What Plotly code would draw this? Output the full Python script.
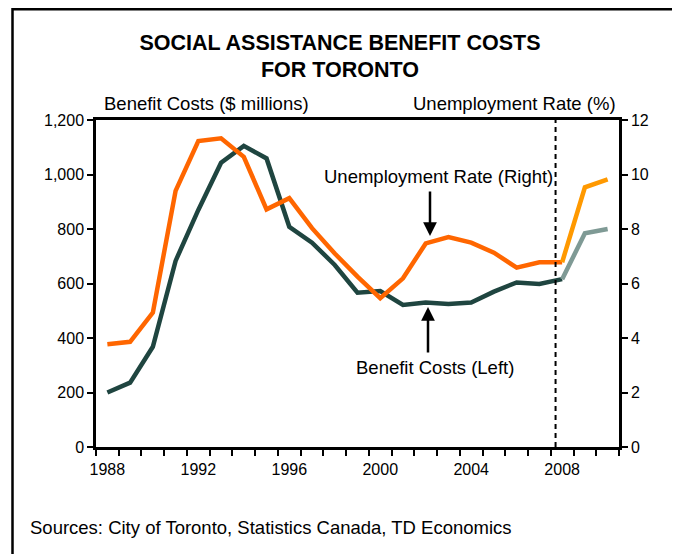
import plotly.graph_objects as go

years = list(range(1988, 2011))
benefit_costs = [200, 236, 368, 683, 870, 1043, 1105, 1059, 808, 750, 668, 566, 572,
                 521, 530, 525, 530, 570, 604, 598, 616, 784, 800]
unemployment = [3.77, 3.86, 4.93, 9.4, 11.23, 11.33, 10.65, 8.72, 9.13, 8.03, 7.1, 6.25, 5.46,
                6.19, 7.47, 7.7, 7.5, 7.13, 6.58, 6.78, 6.78, 9.53, 9.82]
x_tick_labels = [1988, 1992, 1996, 2000, 2004, 2008]
left_ticks = [0, 200, 400, 600, 800, 1000, 1200]
right_ticks = [0, 2, 4, 6, 8, 10, 12]
split_year = 2008
forecast_line_year = 2007.71

DARK = "#1F4540"
LIGHT_DARK = "#7F9A95"
ORANGE = "#FF6600"
LIGHT_ORANGE = "#FF9900"
FONT = "Liberation Sans, Arial, sans-serif"

i = years.index(split_year)

fig = go.Figure()
fig.add_trace(go.Scatter(x=years[:i + 1], y=unemployment[:i + 1], yaxis="y2", mode="lines",
                         line=dict(color=ORANGE, width=4.5), hoverinfo="skip"))
fig.add_trace(go.Scatter(x=years[i:], y=unemployment[i:], yaxis="y2", mode="lines",
                         line=dict(color=LIGHT_ORANGE, width=4.5), hoverinfo="skip"))
fig.add_trace(go.Scatter(x=years[:i + 1], y=benefit_costs[:i + 1], mode="lines",
                         line=dict(color=DARK, width=4.5), hoverinfo="skip"))
fig.add_trace(go.Scatter(x=years[i:], y=benefit_costs[i:], mode="lines",
                         line=dict(color=LIGHT_DARK, width=4.5), hoverinfo="skip"))

OFF = 8  # page body margin offset
W, H = 680 - OFF, 554 - OFF
# plot area in screen (reference) pixels
X0, X1, Y0, Y1 = 96, 619, 120, 447
L = X0 - OFF
R = W - (X1 - OFF)
T = Y0 - OFF
B = H - (Y1 - OFF)
pw, ph = X1 - X0, Y1 - Y0


def px(x):
    return (x - X0) / pw


def py(y):
    return (Y1 - y) / ph


fig.update_layout(
    width=W, height=H,
    margin=dict(l=L, r=R, t=T, b=B),
    paper_bgcolor="white", plot_bgcolor="white",
    showlegend=False,
    font=dict(family=FONT, size=16, color="black"),
    title=dict(text="<b>SOCIAL ASSISTANCE BENEFIT COSTS<br>FOR TORONTO</b>",
               x=(340 - OFF) / W, xanchor="center", xref="container",
               y=1 - (49.5 - OFF) / H, yanchor="middle", yref="container",
               font=dict(family=FONT, size=21.5, color="black")),
    xaxis=dict(range=[1987.5, 2010.5], tickvals=x_tick_labels,
               ticktext=[str(v) for v in x_tick_labels],
               ticks="outside", ticklen=6, tickcolor="rgba(0,0,0,0)",
               minor=dict(tick0=1987.5, dtick=1, ticks="outside", ticklen=6,
                          tickwidth=2, tickcolor="black"),
               showline=True, linecolor="black", linewidth=2.5, mirror=True,
               showgrid=False, zeroline=False,
               tickfont=dict(size=16)),
    yaxis=dict(range=[0, 1200], tickvals=left_ticks, tickformat=",",
               ticks="outside", ticklen=6, tickwidth=2, tickcolor="black",
               showline=True, linecolor="black", linewidth=2.5,
               showgrid=False, zeroline=False, tickfont=dict(size=16)),
    yaxis2=dict(range=[0, 12], tickvals=right_ticks, overlaying="y", side="right",
                ticks="outside", ticklen=6, tickwidth=2, tickcolor="black",
                showline=True, linecolor="black", linewidth=2.5,
                showgrid=False, zeroline=False, tickfont=dict(size=16)),
)

fig.add_shape(type="line", xref="x", yref="paper", x0=forecast_line_year, x1=forecast_line_year,
              y0=0, y1=1, line=dict(color="black", width=2, dash="5px,4px"))
fig.add_shape(type="rect", xref="paper", yref="paper",
              x0=px(12.5), x1=px(676), y0=py(575), y1=py(9.3),
              line=dict(color="black", width=2.5), fillcolor="rgba(0,0,0,0)")

ann = [
    dict(text="Benefit Costs ($ millions)", x=px(102), y=py(103), xanchor="left", yanchor="middle",
         font=dict(size=18.5)),
    dict(text="Unemployment Rate (%)", x=px(618), y=py(103), xanchor="right", yanchor="middle",
         font=dict(size=18.5)),
    dict(text="Unemployment Rate (Right)", x=px(438), y=py(176), xanchor="center", yanchor="middle",
         font=dict(size=18.5)),
    dict(text="Benefit Costs (Left)", x=px(435), y=py(367), xanchor="center", yanchor="middle",
         font=dict(size=18.5)),
    dict(text="Sources: City of Toronto, Statistics Canada, TD Economics", x=px(28), y=py(527),
         xanchor="left", yanchor="middle", font=dict(size=18.5)),
]
for a in ann:
    fig.add_annotation(xref="paper", yref="paper", showarrow=False, **a)

fig.add_annotation(xref="paper", yref="paper", x=px(430), y=py(236), text="", showarrow=True,
                   ax=0, ay=-46, arrowhead=2, arrowsize=1.1, arrowwidth=2.5, arrowcolor="black")
fig.add_annotation(xref="paper", yref="paper", x=px(428), y=py(307), text="", showarrow=True,
                   ax=0, ay=47, arrowhead=2, arrowsize=1.1, arrowwidth=2.5, arrowcolor="black")

fig.write_html("out.html")
